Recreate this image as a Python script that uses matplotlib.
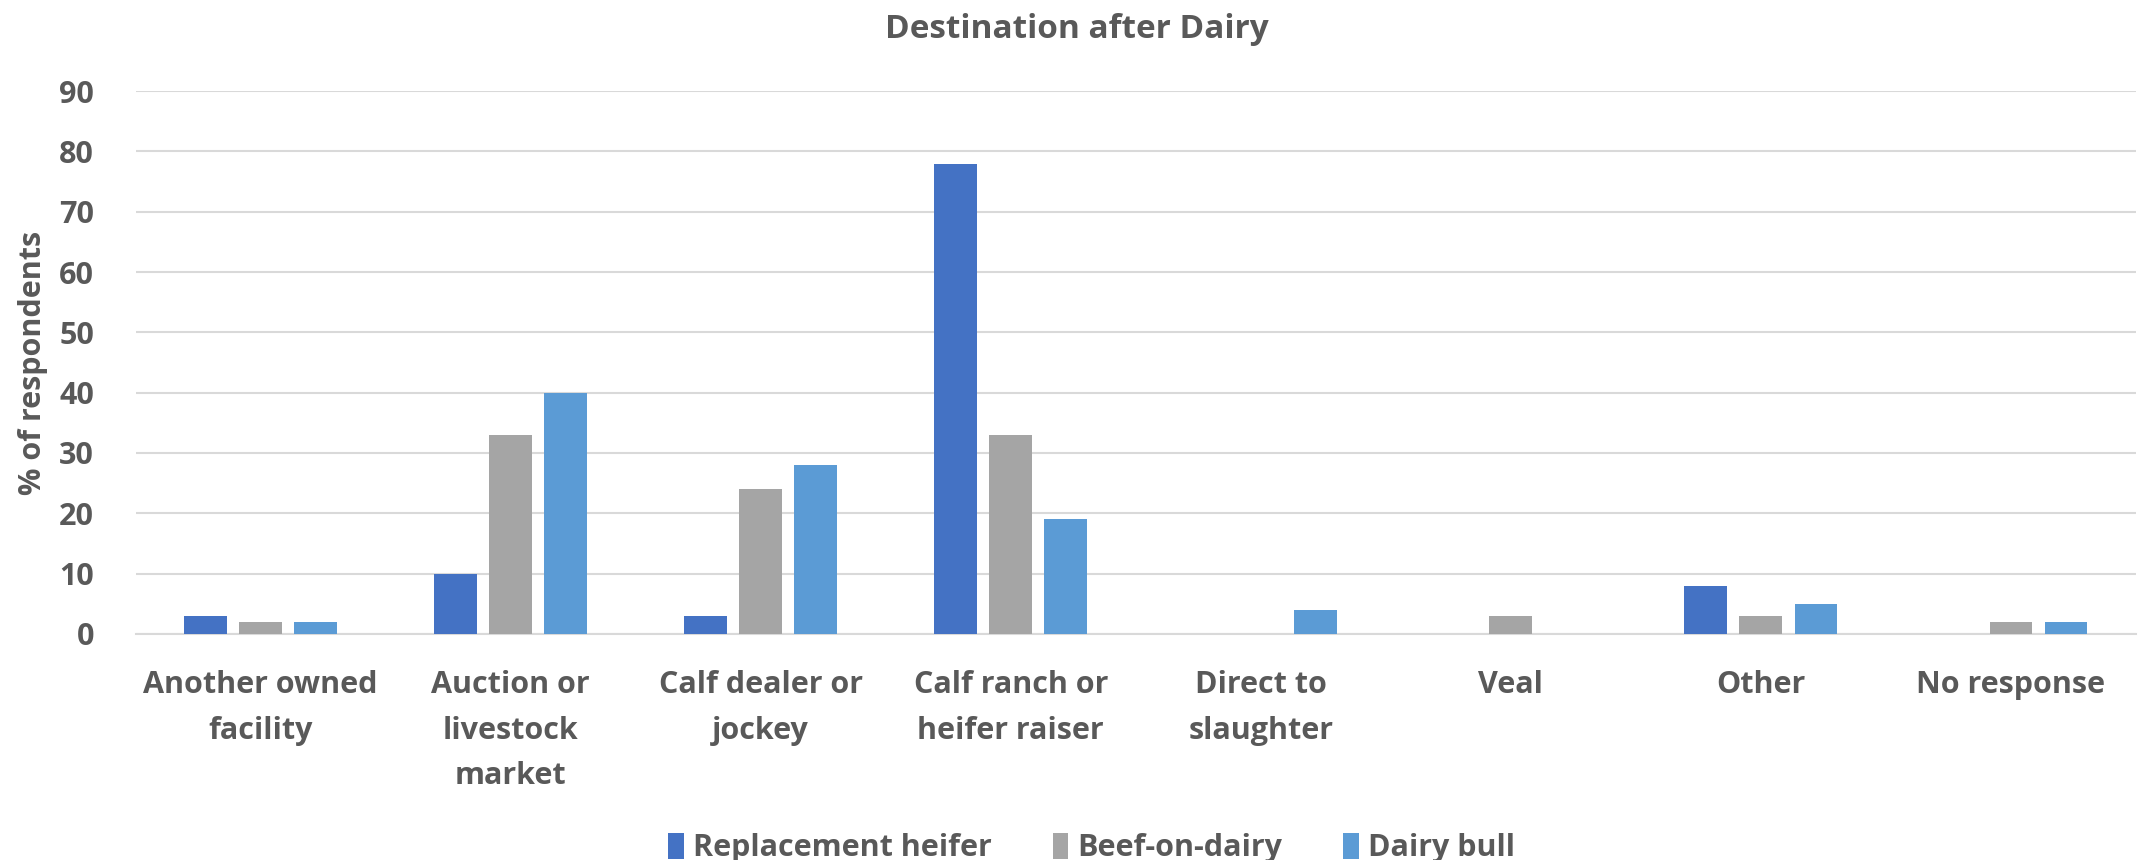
import numpy as np
import matplotlib.pyplot as plt

categories = ["Another owned\nfacility", "Auction or\nlivestock\nmarket", "Calf dealer or\njockey",
              "Calf ranch or\nheifer raiser", "Direct to\nslaughter", "Veal", "Other", "No response"]
replacement_heifer = [3, 10, 3, 78, 0, 0, 8, 0]
beef_on_dairy = [2, 33, 24, 33, 0, 3, 3, 2]
dairy_bull = [2, 40, 28, 19, 4, 0, 5, 2]
series_names = ["Replacement heifer", "Beef-on-dairy", "Dairy bull"]
colors = ["#4472C4", "#A5A5A5", "#5B9BD5"]

txt = "#595959"
plt.rcParams['font.family'] = ['Open Sans', 'DejaVu Sans']
plt.rcParams['font.weight'] = 'bold'
fs = 22

fig = plt.figure(figsize=(21.53, 8.60), dpi=100)
ax = fig.add_axes([0.063, 0.263, 0.929, 0.631])

x = np.arange(len(categories))
w = 0.17
step = 0.22
for i, (vals, name, c) in enumerate(zip([replacement_heifer, beef_on_dairy, dairy_bull], series_names, colors)):
    ax.bar(x + (i - 1) * step, vals, w, color=c, label=name, zorder=3)

ax.set_xlim(-0.5, len(categories) - 0.5)
ax.set_ylim(0, 90)
ax.set_yticks(range(0, 91, 10))
ax.grid(axis='y', color='#d9d9d9', linewidth=1.5, zorder=0)
for s in ['top', 'right', 'left']:
    ax.spines[s].set_visible(False)
ax.spines['bottom'].set_color('#d9d9d9')
ax.spines['bottom'].set_linewidth(1.5)
ax.tick_params(axis='both', length=0, colors=txt, labelsize=fs)
ax.tick_params(axis='y', pad=30)
ax.tick_params(axis='x', pad=26)
ax.set_xticks(x)
ax.set_xticklabels(categories, linespacing=1.68, va='top')
for lab in ax.get_xticklabels() + ax.get_yticklabels():
    lab.set_fontweight('bold')

ax.set_ylabel("% of respondents", color=txt, fontsize=fs, fontweight='bold', labelpad=8)
fig.suptitle("Destination after Dairy", color=txt, fontsize=24, fontweight='bold', y=0.985)

leg = fig.legend(loc='lower center', bbox_to_anchor=(0.507, -0.036), ncol=3, frameon=False,
                 fontsize=fs, handlelength=0.5, handleheight=0.9, handletextpad=0.3, columnspacing=2.0)
for t in leg.get_texts():
    t.set_color(txt)
    t.set_fontweight('bold')

fig.savefig("out.png", dpi=100)
